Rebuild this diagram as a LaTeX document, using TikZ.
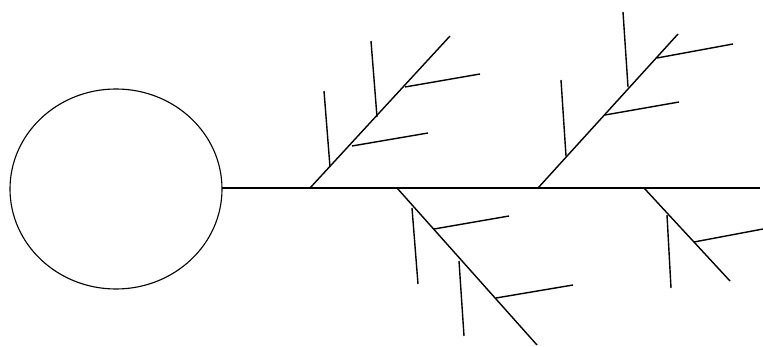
\documentclass[tikz,border=0pt]{standalone}
\usepackage{tikz}
\usetikzlibrary{positioning}

\begin{document}
\begin{tikzpicture}[x=0.025cm, y=-0.025cm, bone/.style={line width=1pt}, head/.style={line width=0.8pt}]
			\useasboundingbox (0,0) rectangle (763,347);
			% head and spine
			\draw[head] (116,189) ellipse (106 and 100);
			\coordinate (s0) at (222,188);
			\coordinate (s1) at (760,188);
			\draw[bone] (s0) -- (s1);

			% upper bones
			\coordinate (u1) at (310,188);   \coordinate (u1t) at (450,36);
			\coordinate (u2) at (538,188);   \coordinate (u2t) at (678,34);
			\draw[bone] (u1) -- (u1t);
			\draw[bone] (u2) -- (u2t);
			\draw[bone] (330,167) -- (324,91);
			\draw[bone] (377,117) -- (371,41);
			\draw[bone] (352,146) -- (428,133);
			\draw[bone] (405,87) -- (480,74);
			\draw[bone] (566,156) -- (561,80);
			\draw[bone] (628,87) -- (623,12);
			\draw[bone] (605,115) -- (679,102);
			\draw[bone] (657,58) -- (733,44);

			% lower bones
			\coordinate (l1) at (397,188);   \coordinate (l1t) at (537,345);
			\coordinate (l2) at (644,188);   \coordinate (l2t) at (730,281);
			\draw[bone] (l1) -- (l1t);
			\draw[bone] (l2) -- (l2t);
			\draw[bone] (412,208) -- (418,284);
			\draw[bone] (459,261) -- (464,336);
			\draw[bone] (434,229) -- (509,216);
			\draw[bone] (496,298) -- (573,285);
			\draw[bone] (667,215) -- (671,288);
			\draw[bone] (694,242) -- (763,229);
		\end{tikzpicture}
\end{document}
